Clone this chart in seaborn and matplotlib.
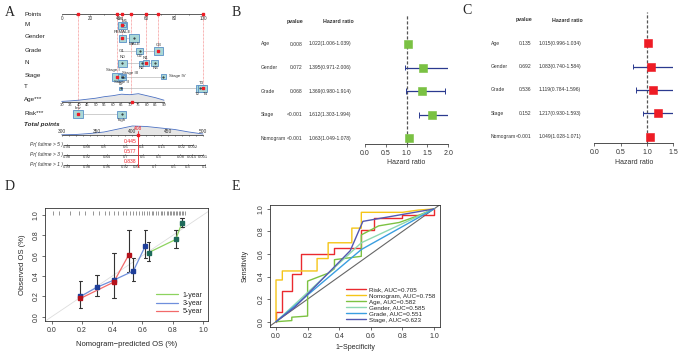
import seaborn as sns
import pandas as pd
import matplotlib.pyplot as plt
import numpy as np
from matplotlib import transforms
from matplotlib.patches import Rectangle

#data

#forest plots, B = univariate, C = multivariate
forest_vars = ["Age", "Gender", "Grade", "Stage", "Nomogram"]
uni_p = ["0.008", "0.072", "0.068", "<0.001", "<0.001"]
uni_hr = [1.022, 1.395, 1.369, 1.612, 1.063]
uni_lo = [1.006, 0.971, 0.980, 1.303, 1.049]
uni_hi = [1.039, 2.006, 1.914, 1.994, 1.078]
multi_p = ["0.135", "0.692", "0.536", "0.152", "<0.001"]
multi_hr = [1.015, 1.083, 1.119, 1.217, 1.049]
multi_lo = [0.996, 0.740, 0.784, 0.930, 1.028]
multi_hi = [1.034, 1.584, 1.596, 1.593, 1.071]

#calibration curves (D)
cal_1y_x = [0.64, 0.82, 0.86]
cal_1y_y = [0.63, 0.76, 0.92]
cal_1y_lo = [0.55, 0.68, 0.88]
cal_1y_hi = [0.73, 0.85, 0.97]
cal_3y_x = [0.19, 0.30, 0.41, 0.54, 0.62]
cal_3y_y = [0.20, 0.29, 0.36, 0.45, 0.70]
cal_3y_lo = [np.nan, 0.20, np.nan, 0.35, 0.58]
cal_3y_hi = [np.nan, 0.41, np.nan, 0.58, 0.85]
cal_5y_x = [0.19, 0.41, 0.51]
cal_5y_y = [0.18, 0.34, 0.61]
cal_5y_lo = [0.09, 0.18, 0.44]
cal_5y_hi = [0.35, 0.63, 0.85]
rug_pred = [0.01, 0.05, 0.12, 0.18, 0.22, 0.27, 0.31, 0.35, 0.38, 0.41, 0.44,
            0.47, 0.49, 0.52, 0.54, 0.56, 0.58, 0.60, 0.61, 0.63, 0.64, 0.66,
            0.67, 0.69, 0.70, 0.72, 0.73, 0.74, 0.76, 0.77, 0.78, 0.79, 0.80,
            0.81, 0.82, 0.83, 0.84, 0.85, 0.86, 0.87, 0.88]

#ROC curves (E)
roc_names = ["Risk", "Nomogram", "Age", "Gender", "Grade", "Stage"]
roc_auc = ["0.705", "0.758", "0.582", "0.585", "0.551", "0.623"]
roc_fpr = {
    "Risk": [0, 0, 0.04, 0.04, 0.10, 0.10, 0.16, 0.16, 0.37, 0.37, 0.54, 0.54,
             0.62, 0.62, 0.80, 0.80, 1.0, 1.0],
    "Nomogram": [0, 0, 0.04, 0.04, 0.26, 0.26, 0.33, 0.33, 0.48, 0.48, 0.54,
                 0.54, 0.80, 0.90, 1.0],
    "Age": [0, 0.10, 0.10, 0.20, 0.20, 0.33, 0.37, 0.37, 0.54, 0.54, 0.65,
            0.78, 0.88, 1.0],
    "Gender": [0, 0.54, 1.0],
    "Grade": [0, 0.54, 1.0],
    "Stage": [0, 0.12, 0.47, 0.55, 1.0],
}
roc_tpr = {
    "Risk": [0, 0.09, 0.09, 0.27, 0.27, 0.42, 0.42, 0.60, 0.60, 0.65, 0.65,
             0.81, 0.81, 0.92, 0.92, 0.95, 0.95, 1.0],
    "Nomogram": [0, 0.37, 0.37, 0.45, 0.45, 0.56, 0.56, 0.70, 0.70, 0.83,
                 0.83, 0.97, 0.97, 0.99, 1.0],
    "Age": [0, 0.01, 0.04, 0.05, 0.36, 0.43, 0.47, 0.55, 0.58, 0.77, 0.85,
            0.88, 0.93, 1.0],
    "Gender": [0, 0.70, 1.0],
    "Grade": [0, 0.64, 1.0],
    "Stage": [0, 0.13, 0.63, 0.89, 1.0],
}
roc_colors = ["#ea2a2f", "#f5c518", "#7cc242", "#8ed8b0", "#3a9ee0", "#5458b0"]

#nomogram (A), positions in points
nomo_rows = ["Points", "M", "Gender", "Grade", "N", "Stage", "T", "Age***",
             "Risk***", "Total points"]
m_cats = ["M0", "M1"]
m_pts = [42.7, 43.6]
gender_cats = ["FEMALE", "MALE"]
gender_pts = [42.7, 51.4]
grade_cats = ["G1", "G2", "G3"]
grade_pts = [42.7, 55.4, 68.4]
n_cats = ["N0", "N2", "N1", "N3"]
n_pts = [42.7, 56.6, 59.4, 66.0]
stage_cats = ["Stage I", "Stage II", "Stage III", "Stage IV"]
stage_pts = [38.9, 42.5, 43.5, 71.9]
t_cats = ["T1", "T2", "T3", "T4"]
t_pts = [41.8, 97.9, 99.0, 100.0]
risk_cats = ["low", "high"]
risk_pts = [11.7, 42.5]
age_ticks = list(range(30, 95, 5))
age_density = [0.3, 0.8, 1.5, 2.5, 3.5, 5.0, 6.0, 7.5, 7.0, 8.0, 6.0, 4.0, 1.5]
total_ticks = [300, 350, 400, 450, 500]
total_grid = [300, 320, 340, 360, 380, 400, 420, 440, 460, 480, 500]
total_density = [0.2, 0.5, 1.5, 3.0, 6.0, 9.0, 8.5, 7.0, 5.5, 3.0, 1.0]
selected_pts = [11.7, 38.9, 42.7, 49.4, 59.4, 68.4, 100.0]
patient_total = 408
pr_labels = ["Pr( futime > 5 )", "Pr( futime > 3 )", "Pr( futime > 1 )"]
pr_values = ["0.445", "0.577", "0.838"]
pr5_ticks = ["0.94", "0.88", "0.8", "0.6", "0.4", "0.15", "0.02", "0.002"]
pr5_pos = [307, 336, 360, 391, 413, 442, 470, 486]
pr3_ticks = ["0.98", "0.92", "0.84", "0.7", "0.5", "0.3", "0.08", "0.015", "0.001"]
pr3_pos = [307, 336, 364, 390, 415, 437, 468, 485, 500]
pr1_ticks = ["0.99", "0.98", "0.96", "0.92", "0.85", "0.7", "0.5", "0.3", "0.1"]
pr1_pos = [307, 336, 364, 390, 406, 432, 459, 479, 503]

sns.set_style("white")
plt.rcParams["font.family"] = ["Liberation Sans", "DejaVu Sans"]

W, H = 685, 356
fig = plt.figure(figsize=(W / 100, H / 100), dpi=100)


def px_axes(l, t, r, b):
    return fig.add_axes([l / W, 1 - b / H, (r - l) / W, (b - t) / H])


def panel_label(x, y, s):
    fig.text(x / W, 1 - y / H, s, fontsize=10, family="Liberation Serif",
             va="center", ha="left")


#panel A: nomogram
ax = px_axes(0, 0, 215, 172)
ax.set_xlim(-43.67, 108.5)
ax.set_ylim(172, 0)
ax.axis("off")
row_y = [14, 24, 37, 50, 62, 75, 87, 99, 113, 124]
for name, y in zip(nomo_rows, row_y):
    style = "italic" if name == "Total points" else "normal"
    weight = "bold" if name == "Total points" else "normal"
    ax.text(-26.5, y, name, fontsize=4.5, va="center", ha="left",
            style=style, weight=weight, color="#222222")

#points axis
ax.plot([0, 100], [14, 14], color="#444444", lw=0.6)
for v in range(0, 101, 10):
    ax.plot([v, v], [14, 15.3], color="#444444", lw=0.4)
for v in range(0, 101, 20):
    ax.text(v, 15.5, str(v), fontsize=3.3, ha="center", va="top", color="#333333")

fill_c = "#a9d8d6"
edge_c = "#5a8fc7"
k = 1.413  # px per point


def cat_row(y, cats, pts, sizes, labpos, sel):
    ax.plot([min(pts), max(pts)], [y, y], color="#bbbbbb", lw=0.5, zorder=1)
    for c, p, s, lp, i in zip(cats, pts, sizes, labpos, range(len(cats))):
        w, h = s
        if w > 0:
            ax.add_patch(Rectangle((p - w / 2 / k, y - h / 2), w / k, h,
                                   facecolor=fill_c, edgecolor=edge_c, lw=0.6,
                                   zorder=2))
            ax.plot(p, y, marker=".", ms=1, color="#222222", zorder=3)
        dy = {"a": -h / 2 - 2.2, "b": h / 2 + 2.2, "c": 0}[lp[0]]
        dx = lp[1]
        ax.text(p + dx, y + dy, c, fontsize=3.2, ha="center", va="center",
                color="#333333", zorder=4)
        if i == sel:
            ax.plot(p, y, "s", ms=1.8, color="#ee1c25", zorder=5)


cat_row(25, m_cats, m_pts, [(9, 7), (5, 4)], [("a", -1), ("a", 1)], 0)
cat_row(38, gender_cats, gender_pts, [(7, 7), (10, 8)], [("a", 0), ("b", 0)], 0)
cat_row(51, grade_cats, grade_pts, [(0, 0), (7, 6), (9, 8)],
        [("c", 0), ("b", 0), ("a", 0)], 2)
cat_row(63, n_cats, n_pts, [(9, 7), (6, 5), (6, 6), (7, 6)],
        [("a", 0), ("b", 0), ("a", 0), ("b", 0)], 2)
cat_row(76.5, stage_cats, stage_pts, [(10, 8), (8, 6), (4, 3), (5, 5)],
        [("a", -3), ("b", 0), ("a", 5), ("c", 10)], 0)
cat_row(88, t_cats, t_pts, [(3, 3), (9, 7), (6, 5), (9, 7)],
        [("a", 0), ("b", -2), ("a", 0), ("b", 2)], 3)
cat_row(114, risk_cats, risk_pts, [(10, 8), (9, 7)], [("a", 0), ("b", 0)], 0)

#age axis with density
age_to_pts = 72.4 / 60
age_p = [(a - 30) * age_to_pts for a in age_ticks]
ax.fill_between(age_p, 101.7, [101.7 - d for d in age_density],
                color="#e6e6e6", lw=0)
sns.lineplot(x=age_p, y=[101.7 - d for d in age_density], ax=ax,
             color="#4a6fc0", lw=0.6, estimator=None, sort=False)
ax.plot([age_p[0], age_p[-1]], [101.7, 101.7], color="#444444", lw=0.6)
for a, p in zip(age_ticks, age_p):
    ax.plot([p, p], [101.7, 103], color="#444444", lw=0.4)
    ax.text(p, 103.3, str(a), fontsize=3.0, ha="center", va="top", color="#333333")
ax.plot((71 - 30) * age_to_pts, 101.7, "s", ms=1.8, color="#ee1c25", zorder=5)

#total points axis with density
tp = lambda v: (v - 300) / 2
tot_y = 135
ax.fill_between([tp(v) for v in total_grid], tot_y,
                [tot_y - d for d in total_density], color="#e6e6e6", lw=0)
sns.lineplot(x=[tp(v) for v in total_grid], y=[tot_y - d for d in total_density],
             ax=ax, color="#4a6fc0", lw=0.6, estimator=None, sort=False)
ax.plot([0, 100], [tot_y, tot_y], color="#444444", lw=0.6)
for v in range(300, 501, 10):
    ax.plot([tp(v), tp(v)], [tot_y, tot_y + 1.2], color="#444444", lw=0.4)
for v in total_ticks:
    ax.text(tp(v), tot_y - 1, str(v), fontsize=3.5, ha="center", va="bottom",
            color="#333333")

#probability axes
for y, lab, ticks, pos in zip([145, 155, 165], pr_labels,
                              [pr5_ticks, pr3_ticks, pr1_ticks],
                              [pr5_pos, pr3_pos, pr1_pos]):
    ax.plot([tp(pos[0]) - 2, tp(pos[-1])], [y, y], color="#444444", lw=0.6)
    ax.text(tp(pos[0]) - 3, y - 1, lab, fontsize=3.6, ha="right", va="center",
            style="italic", color="#333333")
    for t, p in zip(ticks, pos):
        ax.plot([tp(p), tp(p)], [y - 1.3, y], color="#444444", lw=0.4)
        ax.text(tp(p), y + 0.4, t, fontsize=3.0, ha="center", va="top",
                color="#333333")

#red selection lines
red_targets = [114, 76.5, 38, 101.7, 63, 51, 88]
for p, yb in zip(selected_pts, red_targets):
    ax.plot([p, p], [14, yb], color="#f26b6b", lw=0.5, ls=(0, (1, 1)), zorder=0)
    ax.plot(p, 14, "s", ms=1.8, color="#ee1c25", zorder=5)
xt = tp(patient_total)
ax.plot([xt, xt], [tot_y - 4, 167], color="#ee1c25", lw=0.6, zorder=5)
ax.plot(xt, tot_y, "s", ms=1.8, color="#ee1c25", zorder=6)
ax.text(xt, tot_y - 4, str(patient_total), fontsize=3.5, color="#ee1c25",
        ha="center", va="bottom")
for y, v in zip([141, 151, 161], pr_values):
    ax.text(xt - 1, y, v, fontsize=3.6, color="#ee1c25", ha="right", va="center")
panel_label(5, 12, "A")


#panels B and C: forest plots
def forest(l, r, xmax, xticks, rows_px, axis_px, top_px, hdr_px, lab_x, p_x,
           hr_x, p_hdr_x, hr_hdr_x, pvals, hr, lo, hi, color, xlab_y):
    step = (rows_px[-1] - rows_px[0]) / 4
    y0 = rows_px[0]
    axf = px_axes(l, top_px, r, axis_px)
    axf.set_xlim(0, xmax)
    axf.set_ylim((axis_px - y0) / step, (top_px - y0) / step)
    for s in ["top", "right", "left"]:
        axf.spines[s].set_visible(False)
    axf.spines["bottom"].set_linewidth(0.6)
    axf.spines["bottom"].set_color("#333333")
    axf.set_yticks([])
    axf.set_xticks(xticks)
    axf.set_xticklabels([f"{t:.1f}" for t in xticks], fontsize=5)
    axf.tick_params(axis="x", length=2.5, width=0.5, pad=1.5, colors="#333333",
                    bottom=True)
    axf.axvline(1.0, color="#555555", lw=0.9, ls=(0, (2.5, 1.5)), zorder=1)
    idx = list(range(len(hr)))
    axf.hlines(idx, lo, hi, color="#2b3a8f", lw=0.9, zorder=2)
    for i, a, b in zip(idx, lo, hi):
        axf.vlines([a, b], i - 0.12, i + 0.12, color="#2b3a8f", lw=0.7, zorder=2)
    sns.scatterplot(x=hr, y=idx, ax=axf, marker="s", s=28, color=color,
                    edgecolor=color, zorder=3, clip_on=False)
    trans = transforms.blended_transform_factory(fig.transFigure, axf.transData)
    fig.text(p_hdr_x / W, 1 - hdr_px / H, "pvalue", fontsize=3.8, ha="center",
             va="center", weight="bold", color="#333333")
    fig.text(hr_hdr_x / W, 1 - hdr_px / H, "Hazard ratio", fontsize=3.8,
             ha="center", va="center", weight="bold", color="#333333")
    for i, name in enumerate(forest_vars):
        axf.text(lab_x / W, i, name, transform=trans, fontsize=3.6, ha="left",
                 va="center", color="#333333")
        axf.text(p_x / W, i, pvals[i], transform=trans, fontsize=3.6, ha="right",
                 va="center", color="#333333")
        axf.text(hr_x / W, i, f"{hr[i]:.3f}({lo[i]:.3f}-{hi[i]:.3f})",
                 transform=trans, fontsize=3.6, ha="right", va="center",
                 color="#333333")
    fig.text((l + r) / 2 / W, 1 - xlab_y / H, "Hazard ratio", fontsize=5,
             ha="center", va="center", color="#333333")


forest(365, 448.3, 2.0, [0.0, 0.5, 1.0, 1.5, 2.0],
       [44, 68.3, 91.7, 115.3, 138.3], 144, 14, 21.7, 261, 302, 351, 295, 338,
       uni_p, uni_hr, uni_lo, uni_hi, "#7ac143", 163)
forest(594.3, 673.3, 1.5, [0.0, 0.5, 1.0, 1.5],
       [43.3, 67.3, 90, 114, 136.7], 143.3, 12, 20, 491, 531, 581, 524, 567,
       multi_p, multi_hr, multi_lo, multi_hi, "#ee1c25", 162.7)
panel_label(232, 12, "B")
panel_label(462, 10, "C")


def r_axes(axr):
    for s in axr.spines.values():
        s.set_linewidth(0.6)
        s.set_color("#333333")
    axr.tick_params(length=2.5, width=0.5, labelsize=5, pad=1.5,
                    colors="#333333", bottom=True, left=True)
    axr.set_xticks([0, 0.2, 0.4, 0.6, 0.8, 1.0])
    axr.set_yticks([0, 0.2, 0.4, 0.6, 0.8, 1.0])
    axr.set_xticklabels(["0.0", "0.2", "0.4", "0.6", "0.8", "1.0"])
    axr.set_yticklabels(["0.0", "0.2", "0.4", "0.6", "0.8", "1.0"],
                        rotation=90, va="center")


#panel D: calibration
axd = px_axes(45, 208, 208, 321)
axd.set_xlim(-0.044, 1.033)
axd.set_ylim(-0.042, 1.069)
r_axes(axd)
axd.plot([-0.05, 1.05], [-0.05, 1.05], color="#dddddd", lw=0.6, zorder=0)
axd.vlines(rug_pred, 1.0, 1.04, color="#444444", lw=0.4)
cal_sets = [
    ("1-year", cal_1y_x, cal_1y_y, cal_1y_lo, cal_1y_hi, "#8dd35f", "#1e6a5a"),
    ("3-year", cal_3y_x, cal_3y_y, cal_3y_lo, cal_3y_hi, "#6f8fdc", "#1f3f9a"),
    ("5-year", cal_5y_x, cal_5y_y, cal_5y_lo, cal_5y_hi, "#f26a6a", "#b5121b"),
]
for name, x, y, lo, hi, lc, mc in cal_sets:
    for xi, a, b in zip(x, lo, hi):
        if not np.isnan(a):
            axd.plot([xi, xi], [a, b], color="#333333", lw=0.8, zorder=2)
            axd.plot([xi - 0.012, xi + 0.012], [a, a], color="#333333", lw=0.8)
            axd.plot([xi - 0.012, xi + 0.012], [b, b], color="#333333", lw=0.8)
    sns.lineplot(x=x, y=y, ax=axd, color=lc, lw=0.9, label=name,
                 estimator=None, sort=False, zorder=3)
    axd.plot(x, y, "s", ms=2.2, color=mc, zorder=4)
axd.legend(loc="lower right", fontsize=5, frameon=False, handlelength=3.2,
           borderaxespad=0.4, labelspacing=0.2, handletextpad=0.6)
axd.set_xlabel("Nomogram\u2212predicted OS (%)", fontsize=5.5, labelpad=5)
axd.set_ylabel("Observed OS (%)", fontsize=5.5, labelpad=5)
panel_label(5, 187, "D")

#panel E: ROC
axe = px_axes(270, 205, 440, 327)
axe.set_xlim(-0.038, 1.038)
axe.set_ylim(-0.047, 1.035)
r_axes(axe)
axe.plot([-0.05, 1.05], [-0.05, 1.05], color="#666666", lw=0.8, zorder=0)
for name, auc, c in zip(roc_names, roc_auc, roc_colors):
    sns.lineplot(x=roc_fpr[name], y=roc_tpr[name], ax=axe, color=c, lw=1.0,
                 estimator=None, sort=False, label=f"{name}, AUC={auc}")
axe.legend(loc="lower right", fontsize=4.5, frameon=False, handlelength=3.2,
           borderaxespad=0.3, labelspacing=0.1, handletextpad=0.6)
axe.set_xlabel("1\u2212Specificity", fontsize=5, labelpad=3)
axe.set_ylabel("Sensitivity", fontsize=5, labelpad=6)
panel_label(232, 187, "E")

fig.savefig("out.png", dpi=100)
